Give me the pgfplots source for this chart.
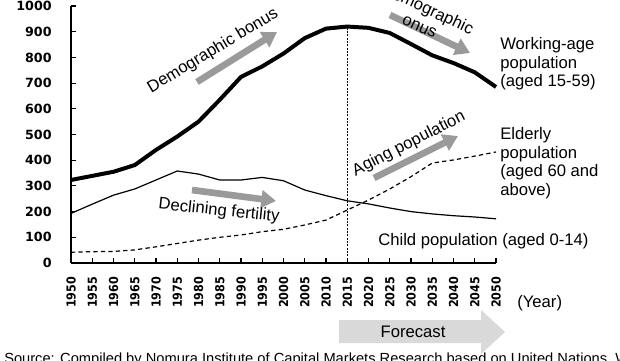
\documentclass[border=0pt]{standalone}
\usepackage{pgfplots}
\pgfplotsset{compat=1.18}
\usepackage{fontspec}
\setmainfont{Liberation Sans}
\newfontfamily\tickfont{DejaVu Sans}
\newfontfamily\tickfontc{DejaVu Sans Condensed}
\usetikzlibrary{arrows.meta}
\definecolor{arrowgray}{HTML}{9A9A9A}
\definecolor{fcgray}{HTML}{D9D9D9}
\begin{document}
\begin{tikzpicture}
\begin{axis}[
  at={(53.25pt,-197.25pt)}, anchor=south west,
  scale only axis, width=318.75pt, height=192.75pt,
  xmin=1950, xmax=2050, ymin=0, ymax=1000,
  axis x line=bottom, axis y line=left,
  axis line style={-, line width=0.9pt, black},
  xtick={1950,1955,...,2050}, ytick={0,100,...,1000},
  tick align=inside, major tick length=4pt,
  tick style={black, line width=0.8pt},
  /pgf/number format/assume math mode=true,
  /pgf/number format/1000 sep={},
  xticklabel style={rotate=90, anchor=east, font=\tickfontc\bfseries\fontsize{9.3}{10}\selectfont, xshift=-6.75pt},
  yticklabel style={font=\tickfont\bfseries\fontsize{9.5}{10}\selectfont, xshift=-11pt},
  clip=false,
]
\addplot[black, line width=3pt, line join=round] coordinates {
(1950,323)(1955,339)(1960,355)(1965,381)(1970,440)(1975,492)(1980,550)(1985,635)(1990,724)(1995,765)(2000,815)(2005,875)(2010,912)(2015,920)(2020,915)(2025,895)(2030,852)(2035,808)(2040,778)(2045,742)(2050,685)};
\addplot[black, line width=0.9pt] coordinates {
(1950,193)(1955,229)(1960,264)(1965,288)(1970,323)(1975,358)(1980,346)(1985,323)(1990,323)(1995,333)(2000,320)(2005,284)(2010,262)(2015,242)(2020,230)(2025,214)(2030,200)(2035,191)(2040,184)(2045,179)(2050,172)};
\addplot[black, line width=0.9pt, dash pattern=on 3.2pt off 2.4pt] coordinates {
(1950,42)(1955,44)(1960,45)(1965,51)(1970,63)(1975,76)(1980,89)(1985,100)(1990,109)(1995,122)(2000,131)(2005,148)(2010,167)(2015,206)(2020,245)(2025,288)(2030,336)(2035,389)(2040,401)(2045,416)(2050,432)};
\addplot[black, line width=0.7pt, dash pattern=on 1.5pt off 1pt] coordinates {(2015,0)(2015,918)};
\end{axis}
\begin{scope}[x=0.75pt, y=-0.75pt, font=\fontsize{12.5}{14}\selectfont]
  % Forecast block arrow
  \fill[fcgray] (339,320) -- (481,320) -- (481,310) -- (505,332) -- (481,354) -- (481,343) -- (339,343) -- cycle;
  \node at (413,332) {Forecast};
  \node[anchor=base west, inner sep=0] at (517,307) {(Year)};
  % gray arrows
  \draw[arrowgray, line width=5pt, -{Triangle[length=11pt, width=13pt]}] (197,82) -- (277,32);
  \draw[arrowgray, line width=5pt, -{Triangle[length=11pt, width=13pt]}] (390,15) -- (470,53);
  \draw[arrowgray, line width=5pt, -{Triangle[length=11pt, width=13pt]}] (374,178) -- (458,136);
  \draw[arrowgray, line width=5pt, -{Triangle[length=11pt, width=13pt]}] (192,190) -- (276,201);
  % rotated labels
  \node[rotate=31, inner sep=0] at (213,51) {Demographic bonus};
  \node[rotate=-25, inner sep=0, align=center] at (424,17) {Demographic\\onus};
  \node[rotate=27, inner sep=0] at (409,144) {Aging population};
  \node[rotate=-6, inner sep=0] at (219,211) {Declining fertility};
  % series labels
  \node[anchor=north west, inner sep=0, align=left] at (500,37) {Working-age\\population\\(aged 15-59)};
  \node[anchor=north west, inner sep=0, align=left] at (500,127) {Elderly\\population\\(aged 60 and\\above)};
  \node[anchor=base west, inner sep=0] at (378,245) {Child population (aged 0-14)};
  % source (cut at the bottom)
  \node[anchor=north west, inner sep=0, font=\fontsize{11}{12}\selectfont] at (4,353) {Source: Compiled by Nomura Institute of Capital Markets Research based on United Nations, World Population Prospects};
\end{scope}
\pgfresetboundingbox
\path[use as bounding box] (0,0) rectangle (465pt,-270pt);
\end{tikzpicture}
\end{document}
